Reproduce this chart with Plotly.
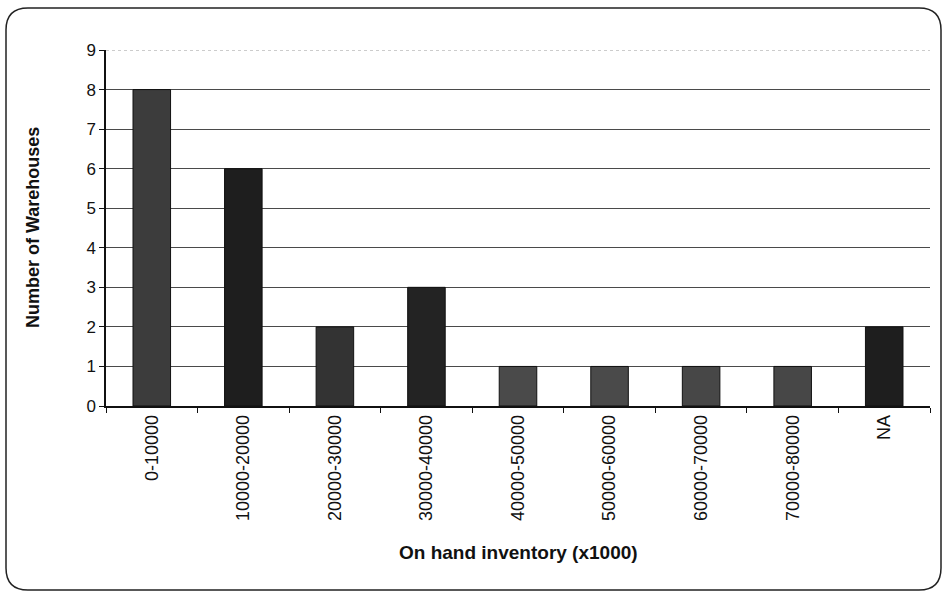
import plotly.graph_objects as go

categories = ["0-10000", "10000-20000", "20000-30000", "30000-40000", "40000-50000",
              "50000-60000", "60000-70000", "70000-80000", "NA"]
counts = [8, 6, 2, 3, 1, 1, 1, 1, 2]
bar_colors = ["#3c3c3c", "#1e1e1e", "#333333", "#232323", "#4a4a4a",
              "#4a4a4a", "#474747", "#474747", "#1e1e1e"]
y_ticks = [0, 1, 2, 3, 4, 5, 6, 7, 8, 9]

fig = go.Figure()
fig.add_trace(go.Bar(
    x=categories, y=counts,
    marker=dict(color=bar_colors, line=dict(color="#111111", width=1)),
    width=0.41,
))

W, H = 946, 595
L, R, T, B = 106, 930, 50, 406

# rounded chart border, expressed in plot-area (paper) fractions
x0, x1, y0, y1, r = 6, 941, 8, 590, 22
def px(x): return (x - L) / (R - L)
def py(y): return (B - y) / (B - T)
path = (f"M {px(x0+r)},{py(y0)} L {px(x1-r)},{py(y0)} "
        f"Q {px(x1)},{py(y0)} {px(x1)},{py(y0+r)} L {px(x1)},{py(y1-r)} "
        f"Q {px(x1)},{py(y1)} {px(x1-r)},{py(y1)} L {px(x0+r)},{py(y1)} "
        f"Q {px(x0)},{py(y1)} {px(x0)},{py(y1-r)} L {px(x0)},{py(y0+r)} "
        f"Q {px(x0)},{py(y0)} {px(x0+r)},{py(y0)} Z")

shapes = [
    dict(type="path", xref="paper", yref="paper", path=path,
         line=dict(color="#222222", width=1.5), layer="below"),
    # top gridline is faint / dotted in the reference
    dict(type="line", xref="paper", yref="y", x0=0, x1=1, y0=y_ticks[-1], y1=y_ticks[-1],
         line=dict(color="white", width=2), layer="above"),
    dict(type="line", xref="paper", yref="y", x0=0, x1=1, y0=y_ticks[-1], y1=y_ticks[-1],
         line=dict(color="#9a9a9a", width=1, dash="dot"), layer="above"),
]

FONT = "Liberation Sans, Arial, sans-serif"
fig.update_layout(
    width=W, height=H,
    margin=dict(l=L, r=W - R, t=T, b=H - B),
    paper_bgcolor="white", plot_bgcolor="white",
    font=dict(family=FONT, color="#111111"),
    showlegend=False,
    shapes=shapes,
    annotations=[
        dict(text="<b>Number of Warehouses</b>", xref="paper", yref="paper",
             x=px(33), y=0.5, xanchor="center", yanchor="middle", textangle=-90,
             showarrow=False, font=dict(size=18, family=FONT, color="#111111")),
        dict(text="<b>On hand inventory (x1000)</b>", xref="paper", yref="paper",
             x=0.5, y=py(552), xanchor="center", yanchor="middle",
             showarrow=False, font=dict(size=19, family=FONT, color="#111111")),
    ],
    xaxis=dict(
        automargin=False,
        tickangle=-90, tickfont=dict(size=18),
        showline=True, linecolor="#111111", linewidth=1.5,
        ticks="outside", ticklen=5, tickcolor="#111111", tickson="boundaries",
        showgrid=False, range=[-0.5, 8.5],
    ),
    yaxis=dict(
        automargin=False,
        range=[0, 9], tickvals=y_ticks, tickfont=dict(size=17),
        showline=True, linecolor="#111111", linewidth=1.5,
        ticks="outside", ticklen=5, tickcolor="#111111",
        showgrid=True, gridcolor="#4a4a4a", gridwidth=1,
        zeroline=False,
    ),
)

fig.write_html("out.html", config={"displayModeBar": False},
               post_script="document.body.style.margin='0px';")
